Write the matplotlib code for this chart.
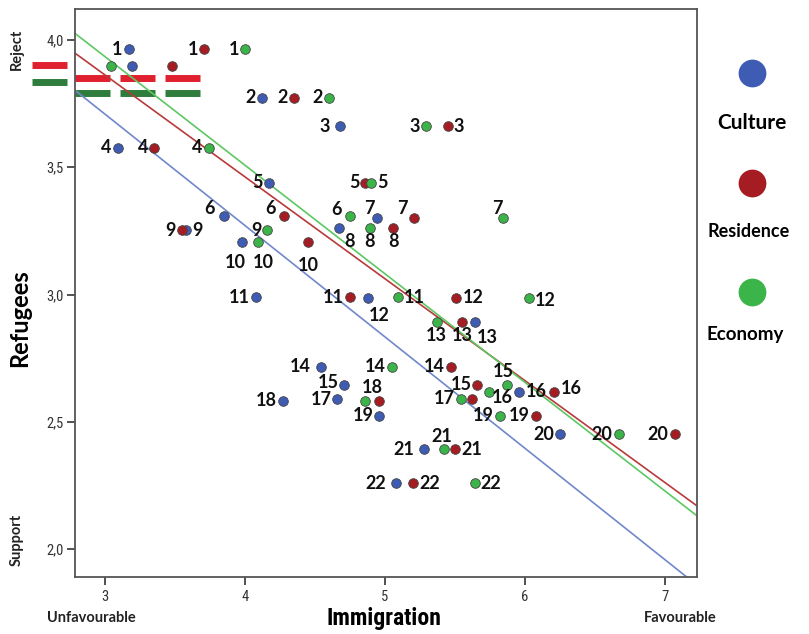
import matplotlib
matplotlib.use("Agg")
import matplotlib.pyplot as plt
from matplotlib import font_manager
import numpy as np

# ---------- data ----------
countries = [str(i) for i in range(1, 23)]
refugees = [3.963, 3.774, 3.661, 3.576, 3.44, 3.307, 3.30, 3.26, 3.252, 3.206, 2.99,
            2.987, 2.894, 2.717, 2.646, 2.618, 2.59, 2.582, 2.524, 2.45, 2.392, 2.259]
culture = [3.17, 4.12, 4.68, 3.09, 4.17, 3.85, 4.94, 4.67, 3.58, 3.98, 4.08,
           4.88, 5.64, 4.54, 4.71, 5.96, 4.66, 4.27, 4.96, 6.25, 5.28, 5.08]
residence = [3.71, 4.35, 5.45, 3.35, 4.86, 4.28, 5.21, 5.06, 3.55, 4.45, 4.75,
             5.51, 5.55, 5.47, 5.66, 6.21, 5.62, 4.96, 6.08, 7.07, 5.50, 5.20]
economy = [4.00, 4.60, 5.29, 3.74, 4.90, 4.75, 5.84, 4.89, 4.16, 4.09, 5.09,
           6.03, 5.37, 5.05, 5.87, 5.74, 5.54, 4.86, 5.82, 6.67, 5.42, 5.64]

# unnumbered points (Hungary, flagged by the red/green dashes)
hungary_refugees = 3.898
hungary = {"Culture": 3.195, "Residence": 3.481, "Economy": 3.043}
flag_red_level = 3.851
flag_green_level = 3.793
flag_xmax = 3.69
flag_side_red = 3.90
flag_side_green = 3.836

# fit lines y = a + b x
fit_a = {"Culture": 5.022, "Residence": 5.064, "Economy": 5.215}
fit_b = {"Culture": -0.4377, "Residence": -0.4004, "Economy": -0.4267}

xticks = [3, 4, 5, 6, 7]
yticks = [2.0, 2.5, 3.0, 3.5, 4.0]

# ---------- styling ----------
point_col = {"Culture": "#3f5cb5", "Residence": "#a51c22", "Economy": "#3bb54a"}
line_col = {"Culture": "#7088cc", "Residence": "#b83a3a", "Economy": "#5cc862"}
flag_red = "#e0202e"
flag_green = "#2e7d3c"

available = {f.name for f in font_manager.fontManager.ttflist}
narrow = next((f for f in ["Liberation Sans Narrow", "Roboto Condensed", "DejaVu Sans Condensed"]
               if f in available), "DejaVu Sans")
round_font = next((f for f in ["Lato", "Open Sans", "DejaVu Sans"] if f in available), "DejaVu Sans")

# label placement per point: (dx, dy, ha) in pixels, dy up
L = (-6, 0, "right")
LL = (-10, 0, "right")
R = (6, 0, "left")
N = None
place = {
    "Culture": [L, L, LL, L, L, (-14, 8, "center"), (-7, 10, "center"), (11, -13, "center"), R,
                (-7, -20, "center"), L, (11, -18, "center"), (13, -16, "center"), LL, (-6, 2, "right"),
                R, (-6, -1, "right"), L, L, L, LL, LL],
    "Residence": [L, L, R, L, L, (-14, 8, "center"), (-12, 10, "center"), (0, -13, "center"), L,
                  (0, -23, "center"), L, R, (0, -14, "center"), L, L, (6, 3, "left"), N, N, L, L,
                  R, R],
    "Economy": [L, L, L, L, R, (-13, 7, "center"), (-5, 10, "center"), (0, -13, "center"), L,
                (6, -20, "center"), R, (6, -3, "left"), (0, -14, "center"), L, (-3, 13, "center"),
                (14, -6, "center"), L, (7, 13, "center"), L, L, (-2, 13, "center"), R],
}
series = {"Culture": culture, "Residence": residence, "Economy": economy}

W, H = 809, 634
fig = plt.figure(figsize=(W / 100, H / 100), dpi=100)
ax = fig.add_axes([75 / W, (H - 577) / H, (697 - 75) / W, (577 - 9) / H])
ax.set_xlim(2.786, 7.229)
ax.set_ylim(1.890, 4.122)

xs = np.array(ax.get_xlim())
for name in series:
    ax.plot(xs, fit_a[name] + fit_b[name] * xs, color=line_col[name], lw=1.2, zorder=2)

# Hungarian flag dashes
x0 = ax.get_xlim()[0]
ax.plot([x0, flag_xmax], [flag_red_level] * 2, color=flag_red, lw=5,
        dashes=(5.04, 1.44), solid_capstyle="butt", dash_capstyle="butt", zorder=1)
ax.plot([x0, flag_xmax], [flag_green_level] * 2, color=flag_green, lw=5,
        dashes=(5.04, 1.44), solid_capstyle="butt", dash_capstyle="butt", zorder=1)
ax.plot([2.479, 2.729], [flag_side_red] * 2, color=flag_red, lw=5, solid_capstyle="butt",
        clip_on=False)
ax.plot([2.479, 2.729], [flag_side_green] * 2, color=flag_green, lw=5, solid_capstyle="butt",
        clip_on=False)

for name, xv in series.items():
    ax.scatter(xv, refugees, s=48, color=point_col[name], edgecolor="#444444", linewidth=0.6,
               zorder=4)
    ax.scatter([hungary[name]], [hungary_refugees], s=48, color=point_col[name],
               edgecolor="#444444", linewidth=0.6, zorder=4)
    for x, y, lab, p in zip(xv, refugees, countries, place[name]):
        if p is None:
            continue
        dx, dy, ha = p
        ax.annotate(lab, (x, y), xytext=(dx, dy), textcoords="offset pixels", ha=ha,
                    va="center", fontsize=13, fontweight="bold", family=round_font,
                    color="#111111", zorder=5)

ax.set_xticks(xticks)
ax.set_xticklabels([str(t) for t in xticks], family=narrow, fontsize=10.5, color="#333333")
ax.set_yticks(yticks)
ax.set_yticklabels([f"{t:.1f}".replace(".", ",") for t in yticks], family=narrow,
                   fontsize=10.5, color="#333333")
ax.tick_params(length=6, width=1.2, color="#333333")
ax.tick_params(axis="x", pad=3.5)
ax.tick_params(axis="y", pad=2)
for sp in ax.spines.values():
    sp.set_color("#555555")
    sp.set_linewidth(1.3)

# axis texts
fig.text(384 / W, 1 - 618 / H, "Immigration", ha="center", va="center", fontsize=17,
         fontweight="bold", family=narrow)
fig.text(91 / W, 1 - 618 / H, "Unfavourable", ha="center", va="center", fontsize=10.5,
         fontweight="bold", family=round_font, color="#222222")
fig.text(680 / W, 1 - 618 / H, "Favourable", ha="center", va="center", fontsize=10.5,
         fontweight="bold", family=round_font, color="#222222")
fig.text(20 / W, 1 - 318 / H, "Refugees", ha="center", va="center", rotation=90,
         fontsize=17, fontweight="bold", family=round_font)
fig.text(17 / W, 1 - 49 / H, "Reject", ha="center", va="center", rotation=90,
         fontsize=10.5, fontweight="bold", family=round_font, color="#222222")
fig.text(17 / W, 1 - 540 / H, "Support", ha="center", va="center", rotation=90,
         fontsize=10.5, fontweight="bold", family=round_font, color="#222222")

# legend on the right
legend_items = [("Culture", 72.7, 122.7, 751.7, 15), ("Residence", 182.7, 231.7, 749, 13),
                ("Economy", 292.3, 334, 745, 13.5)]
for name, cy, ty, tx, fs in legend_items:
    fig.lines.append(matplotlib.lines.Line2D([751.7 / W], [1 - cy / H], marker="o", ms=20,
                                             color=point_col[name], mec="none",
                                             transform=fig.transFigure))
    fig.text(tx / W, 1 - ty / H, name, ha="center", va="center", fontsize=fs,
             fontweight="bold", family=round_font)

fig.savefig("out.png", dpi=100)
